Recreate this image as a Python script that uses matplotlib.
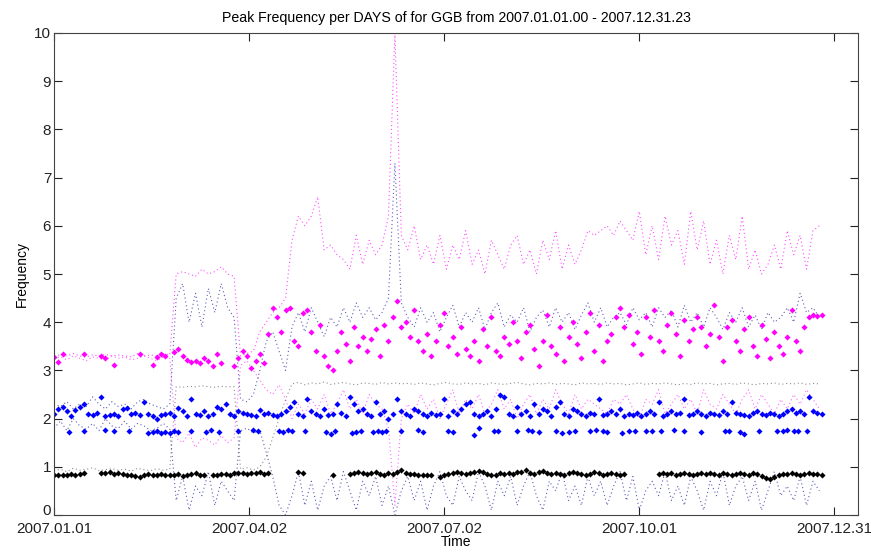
import numpy as np
import matplotlib
matplotlib.use("Agg")
import matplotlib.pyplot as plt
import matplotlib.transforms as mtransforms

nan = np.nan

# day of year (0 = 2007.01.01), markers every 2 days, dotted bands every 3 days
days2 = np.arange(0, 365, 2)
days3 = np.arange(0, 364, 3)

tick_days = [0, 91, 182, 273, 364]
tick_labels = ["2007.01.01", "2007.04.02", "2007.07.02", "2007.10.01", "2007.12.31"]

# peak 1 (black markers)
blk = [0.83, 0.82, 0.84, 0.83, 0.85, 0.84, 0.86, 0.88, nan, nan,
       nan, 0.88, 0.87, 0.89, 0.86, 0.88, 0.86, 0.84, 0.82, 0.80,
       0.78, 0.82, 0.85, 0.84, 0.83, 0.85, 0.82, 0.83, 0.84, 0.86,
       0.81, 0.83, 0.85, 0.87, 0.83, 0.84, nan, 0.82, 0.84, 0.85,
       0.86, 0.84, 0.88, 0.87, 0.88, 0.86, 0.88, 0.87, 0.89, 0.86,
       0.87, nan, nan, nan, nan, nan, nan, 0.90, 0.88, nan,
       nan, nan, nan, nan, nan, 0.82, nan, nan, nan, 0.86,
       0.88, 0.90, 0.87, 0.85, 0.88, 0.89, 0.86, 0.84, 0.87, 0.86,
       0.90, 0.93, 0.88, 0.86, 0.85, 0.83, 0.82, 0.84, 0.83, nan,
       0.78, 0.82, 0.86, 0.88, 0.90, 0.87, 0.85, 0.88, 0.90, 0.92,
       0.89, 0.86, 0.84, 0.82, 0.87, 0.85, 0.88, 0.86, 0.89, 0.90,
       0.93, 0.88, 0.86, 0.89, 0.92, 0.87, 0.85, 0.88, 0.86, 0.84,
       0.87, 0.90, 0.88, 0.85, 0.83, 0.86, 0.89, 0.87, 0.84, 0.86,
       0.88, 0.85, 0.83, 0.86, nan, nan, nan, nan, nan, nan,
       nan, 0.86, 0.88, 0.85, 0.87, 0.84, 0.86, 0.88, 0.85, 0.83,
       0.86, 0.87, 0.85, 0.88, 0.86, 0.84, 0.87, 0.85, 0.83, 0.86,
       0.88, 0.86, 0.84, 0.87, 0.85, 0.80, 0.76, 0.75, 0.78, 0.83,
       0.85, 0.86, 0.88, 0.85, 0.83, 0.86, 0.87, 0.85, 0.86, 0.84,
       nan, nan, nan]

# peak 2 (blue markers, main level)
blu = [2.10, 2.20, 2.25, 2.15, 2.05, 2.18, 2.25, 2.30, 2.10, 2.08,
       2.12, 2.45, 2.05, 2.08, 2.10, 2.05, 2.20, 2.22, 2.10, 2.12,
       2.08, 2.35, 2.10, 2.05, 2.00, 2.08, 2.10, 2.12, 2.05, 2.22,
       2.15, 2.05, 2.40, 2.10, 2.08, 2.15, 2.05, 2.10, 2.25, 2.20,
       2.30, 2.10, 2.05, 2.15, 2.12, 2.10, 2.08, 2.05, 2.18, 2.10,
       2.12, 2.08, 2.05, 2.10, 2.15, 2.25, 2.35, 2.10, 2.05, 2.40,
       2.15, 2.10, 2.05, 2.20, 2.08, 2.10, 2.30, 2.12, 2.05, 2.45,
       2.30, 2.15, 2.20, 2.10, 2.05, 2.35, 2.10, 2.15, 2.00, 2.10,
       2.40, 2.15, 2.10, 2.05, 2.20, 2.15, 2.10, 2.05, 2.12, 2.08,
       2.10, 2.40, 2.05, 2.15, 2.10, 2.20, 2.30, 2.35, 2.10, 2.05,
       2.10, 2.15, 2.05, 2.20, 2.50, 2.45, 2.10, 2.05, 2.25, 2.10,
       2.15, 2.05, 2.30, 2.10, 2.20, 2.15, 2.05, 2.25, 2.35, 2.10,
       2.05, 2.20, 2.15, 2.10, 2.05, 2.12, 2.10, 2.40, 2.08, 2.10,
       2.15, 2.10, 2.20, 2.05, 2.10, 2.08, 2.12, 2.05, 2.10, 2.15,
       2.10, 2.35, 2.05, 2.10, 2.15, 2.10, 2.12, 2.40, 2.08, 2.10,
       2.15, 2.10, 2.05, 2.12, 2.10, 2.08, 2.15, 2.10, 2.35, 2.12,
       2.10, 2.08, 2.05, 2.12, 2.15, 2.10, 2.08, 2.12, 2.10, 2.05,
       2.10, 2.15, 2.20, 2.12, 2.15, 2.10, 2.45, 2.15, 2.12, 2.10,
       nan, nan, nan]

# peak 2 (blue markers, lower level)
blu_low_days = [7, 14, 24, 28, 35, 44, 46, 48, 50, 52,
                54, 56, 58, 64, 71, 73, 77, 86, 93, 95,
                105, 107, 109, 111, 117, 127, 129, 131, 139, 141,
                143, 149, 151, 153, 155, 162, 170, 172, 184, 186,
                196, 198, 205, 207, 216, 221, 223, 226, 234, 237,
                240, 243, 250, 253, 256, 258, 265, 268, 271, 276,
                279, 283, 289, 294, 302, 313, 315, 320, 322, 329,
                337, 340, 342, 345, 347, 351]
blu_low = [1.72, 1.75, 1.76, 1.75, 1.74, 1.70, 1.72, 1.74, 1.71, 1.73,
           1.70, 1.74, 1.72, 1.75, 1.73, 1.76, 1.72, 1.75, 1.76, 1.74,
           1.75, 1.73, 1.76, 1.74, 1.75, 1.73, 1.68, 1.75, 1.70, 1.72,
           1.74, 1.73, 1.75, 1.72, 1.74, 1.75, 1.76, 1.73, 1.74, 1.72,
           1.65, 1.80, 1.75, 1.74, 1.75, 1.76, 1.74, 1.72, 1.75, 1.70,
           1.72, 1.75, 1.74, 1.76, 1.75, 1.73, 1.70, 1.74, 1.75, 1.75,
           1.74, 1.75, 1.76, 1.74, 1.73, 1.75, 1.74, 1.72, 1.68, 1.75,
           1.74, 1.75, 1.76, 1.75, 1.74, 1.75]

# peak 3 (magenta markers)
mag = [3.28, 3.18, 3.35, nan, nan, nan, nan, 3.35, nan, nan,
       nan, 3.30, 3.25, nan, 3.12, nan, nan, nan, nan, nan,
       3.35, nan, nan, 3.12, 3.28, 3.35, 3.30, nan, 3.38, 3.45,
       3.30, 3.22, 3.18, 3.20, 3.15, 3.25, 3.20, 3.10, 3.35, 3.15,
       nan, nan, 3.10, 3.25, 3.40, 3.30, 3.05, 3.20, 3.35, 3.15,
       3.75, 4.30, 4.10, 3.80, 4.25, 4.30, 3.60, 3.50, 4.20, 4.25,
       3.80, 3.40, 3.95, 3.30, 3.10, 3.00, 3.40, 3.80, 3.55, 3.20,
       3.90, 3.50, 3.70, 3.40, 3.65, 3.85, 3.30, 3.95, 3.60, 4.10,
       4.45, 3.90, 4.00, 3.70, 4.25, 3.60, 3.40, 3.75, 3.30, 3.60,
       3.95, 4.20, 3.50, 3.70, 3.35, 3.90, 3.45, 3.30, 3.60, 3.20,
       3.85, 3.50, 4.10, 3.40, 3.30, 3.70, 3.55, 4.00, 3.60, 3.25,
       3.80, 3.95, 3.45, 3.10, 3.60, 4.15, 3.50, 3.35, 3.90, 3.20,
       3.70, 4.00, 3.55, 3.25, 3.80, 4.20, 3.40, 3.95, 3.20, 3.60,
       3.75, 4.10, 4.30, 3.90, 4.15, 3.55, 3.80, 3.35, 4.10, 3.70,
       4.25, 3.60, 3.40, 3.95, 4.20, 3.75, 3.30, 4.05, 3.60, 3.85,
       4.10, 3.90, 3.50, 3.75, 4.35, 3.70, 3.20, 3.90, 4.05, 3.60,
       3.40, 3.85, 4.10, 3.50, 3.30, 3.95, 3.65, 3.25, 3.80, 3.50,
       3.35, 3.70, 4.25, 3.60, 3.40, 3.90, 4.10, 4.15, 4.12, 4.15,
       nan, nan, nan]

# dotted spread lines
mag_hi = [3.30, 3.32, 3.30, 3.35, 3.30, 3.28, 3.32, 3.30, 3.33, 3.30,
          3.32, 3.30, 3.28, 3.35, 3.30, 3.32, 3.30, 3.35, 3.32,
          5.00, 5.05, 5.00, 4.95, 5.10, 5.00, 5.05, 5.15, 5.00, 4.95,
          3.30, 3.35, 3.40, 3.80, 4.00, 4.20, 4.30, 4.50,
          5.70, 6.20, 6.00, 6.20, 6.60, 5.50, 5.60, 5.40, 5.30,
          5.10, 5.80, 5.20, 5.70, 5.40, 5.60, 6.20,
          10.0,
          5.80,
          5.50, 6.00, 5.30, 5.60, 5.20, 5.80, 5.10, 5.60, 5.30, 5.90,
          5.20, 5.50, 5.00, 5.70, 5.40, 5.10, 5.60, 5.80, 5.20, 5.50,
          5.00, 5.70, 5.30, 5.90, 5.10, 5.60, 5.20, 5.50, 5.90, 5.80,
          5.90, 6.00, 5.80, 6.10, 5.90, 5.70, 6.30, 5.40, 6.00, 5.30,
          6.20, 5.60, 5.90, 5.20, 6.30, 5.50, 6.10, 5.20, 5.70, 5.00,
          5.80, 5.30, 6.20, 5.10, 5.50, 5.00, 5.20, 5.60, 5.10, 5.90,
          5.40, 5.80, 5.10, 5.90, 6.00, nan, nan]

mag_lo = [3.25, 3.28, 3.22, 3.30, 3.25, 3.20, 3.28, 3.25, 3.22, 3.30,
          3.25, 3.28, 3.22, 3.25, 3.30, 3.25, 3.20, 3.28, 3.25,
          1.60, 1.50, 1.70, 1.40, 1.60, 1.55, 1.45, 1.65, 1.50, 1.60,
          3.10, 3.20, 3.00, 2.80, 2.60, 2.50, 2.70, 2.40,
          2.00, 2.30, 2.10, 2.40, 2.20, 2.50, 2.10, 2.30, 2.60,
          2.20, 2.40, 2.10, 2.50, 2.30, 2.20, 1.80,
          0.20,
          2.00,
          2.30, 2.10, 2.50, 2.20, 2.40, 2.00, 2.30, 2.60, 2.10, 2.40,
          2.20, 2.50, 2.10, 2.30, 2.60, 2.20, 2.40, 2.00, 2.30, 2.50,
          2.10, 2.40, 2.20, 2.60, 2.30, 2.10, 2.50, 2.20, 2.40, 2.30,
          2.20, 2.10, 2.40, 2.30, 2.50, 2.20, 2.00, 2.40, 2.30, 2.60,
          2.10, 2.30, 2.50, 2.20, 2.40, 2.10, 2.60, 2.30, 2.20, 2.50,
          2.30, 2.10, 2.40, 2.60, 2.20, 2.50, 2.30, 2.10, 2.40, 2.20,
          2.50, 2.30, 2.60, 2.40, 2.20, nan, nan]

blu_hi = [2.30, 2.25, 2.35, 2.20, 2.30, 2.25, 2.45, 2.30, 2.20, 2.35,
          2.25, 2.30, 2.20, 2.35, 2.40, 2.30, 2.25, 2.20, 2.30,
          4.50, 4.80, 4.00, 4.60, 3.90, 4.70, 4.20, 4.80, 4.30, 4.10,
          2.40, 2.35, 2.50, 3.00, 3.60, 3.80, 3.40, 3.00,
          3.90, 4.20, 3.80, 4.30, 4.00, 3.70, 4.10, 3.90, 4.30,
          4.00, 4.40, 4.10, 4.30, 4.05, 4.20, 4.50,
          7.30,
          4.40,
          4.10, 3.90, 4.30, 4.00, 4.20, 3.80, 4.10, 4.35, 3.90, 4.20,
          4.00, 4.30, 3.85, 4.20, 4.40, 3.90, 4.15, 4.00, 4.30, 3.80,
          4.10, 4.25, 3.90, 4.30, 4.00, 4.20, 3.85, 4.15, 4.40, 4.00,
          4.30, 3.90, 4.10, 4.20, 3.95, 4.30, 4.05, 4.20, 3.90, 4.30,
          4.10, 4.25, 3.90, 4.35, 4.00, 4.20, 3.90, 4.30, 4.10, 3.85,
          4.20, 4.00, 4.30, 3.90, 4.15, 3.85, 4.20, 4.00, 4.10, 4.30,
          4.00, 4.60, 4.20, 4.30, 4.10, nan, nan]

blu_lo = [1.80, 1.95, 1.75, 2.00, 1.85, 1.78, 1.90, 1.75, 2.00, 1.85,
          1.80, 1.95, 1.78, 1.90, 1.85, 1.75, 1.80, 1.90, 1.78,
          0.30, 0.80, 0.10, 0.60, 0.40, 0.90, 0.20, 0.70, 0.50, 0.30,
          1.75, 1.80, 1.70, 1.75, 1.30, 0.80, 0.20, 0.00,
          0.40, 0.90, 0.20, 0.70, 0.10, 0.60, 0.80, 0.30, 0.90,
          0.50, 0.10, 0.70, 0.40, 0.80, 0.20, 0.60,
          0.00,
          0.50,
          0.80, 0.30, 0.70, 0.10, 0.60, 0.90, 0.40, 0.20, 0.80, 0.50,
          0.30, 0.90, 0.60, 0.10, 0.70, 0.40, 0.80, 0.20, 0.60, 0.90,
          0.40, 0.10, 0.70, 0.50, 0.90, 0.30, 0.60, 0.20, 0.80, 0.40,
          0.70, 0.20, 0.60, 0.90, 0.30, 0.80, 0.10, 0.50, 0.70, 0.40,
          0.90, 0.30, 0.60, 0.20, 0.80, 0.50, 0.10, 0.70, 0.40, 0.90,
          0.20, 0.60, 0.80, 0.30, 0.70, 0.10, 0.50, 0.90, 0.40, 0.60,
          0.30, 0.80, 0.20, 0.70, 0.50, nan, nan]

blk_hi = [0.92, 0.95, 0.90, 0.97, 0.93, 0.95, 0.98, 0.92, 0.94, 0.96,
          0.93, 0.95, 0.91, 0.97, 0.94, 0.92, 0.96, 0.93, 0.95,
          2.66, 2.65, 2.67, 2.66, 2.68, 2.66, 2.65, 2.67, 2.66, 2.66,
          0.95, 0.98, 0.93, 1.00, 1.20, 1.60, 2.00, 2.40,
          2.72, 2.75, 2.70, 2.74, 2.72, 2.76, 2.71, 2.73, 2.75,
          2.72, 2.70, 2.74, 2.73, 2.71, 2.75, 2.72,
          2.74,
          2.72,
          2.73, 2.71, 2.74, 2.72, 2.70, 2.73, 2.75, 2.72, 2.71, 2.74,
          2.72, 2.73, 2.70, 2.74, 2.72, 2.71, 2.73, 2.75, 2.72, 2.70,
          2.73, 2.72, 2.74, 2.71, 2.73, 2.72, 2.70, 2.74, 2.72, 2.73,
          2.71, 2.74, 2.72, 2.73, 2.70, 2.72, 2.74, 2.71, 2.73, 2.72,
          2.74, 2.72, 2.70, 2.73, 2.71, 2.74, 2.72, 2.73, 2.70, 2.72,
          2.73, 2.71, 2.74, 2.72, 2.70, 2.73, 2.72, 2.74, 2.71, 2.73,
          2.72, 2.74, 2.71, 2.73, 2.72, nan, nan]

plt.rcParams["font.family"] = ["Liberation Sans", "DejaVu Sans"]

fig = plt.figure(figsize=(8.71, 5.56), dpi=100)
ax = fig.add_axes([54 / 871, 41 / 556, 804 / 871, 482 / 556])

dot = (0, (1, 2.5))
ax.plot(days3, mag_hi, color="#ff00ff", ls=dot, lw=0.8, alpha=0.7)
ax.plot(days3, mag_lo, color="#ff00ff", ls=dot, lw=0.8, alpha=0.6)
ax.plot(days3, blu_hi, color="#1a1a99", ls=dot, lw=0.8, alpha=0.7)
ax.plot(days3, blu_lo, color="#1a1a99", ls=dot, lw=0.8, alpha=0.7)
ax.plot(days3, blk_hi, color="#333333", ls=dot, lw=0.8, alpha=0.55)

ms = 3.1
ax.plot(days2, blk, ls="none", marker="D", ms=ms, mew=0, color="black")
ax.plot(days2, blu, ls="none", marker="D", ms=ms, mew=0, color="#0000ff")
ax.plot(blu_low_days, blu_low, ls="none", marker="D", ms=ms, mew=0, color="#0000ff")
ax.plot(days2, mag, ls="none", marker="D", ms=ms, mew=0, color="#ff00ff")

ax.set_xlim(0, 375)
ax.set_ylim(0, 10)
ax.set_xticks(tick_days)
ax.set_xticklabels(tick_labels)
ax.set_yticks(range(0, 11))
ax.tick_params(direction="in", top=True, right=True, length=5.5, labelsize=11, colors="#222222")
ax.tick_params(axis="x", pad=5)
ax.tick_params(axis="y", pad=2)
for s in ax.spines.values():
    s.set_color("#444444")

# MATLAB sits the bottom "0" a little above its tick
zero_lab = ax.get_yticklabels()[0]
zero_lab.set_transform(zero_lab.get_transform() +
                       mtransforms.ScaledTranslation(0, 4 / 72, fig.dpi_scale_trans))

ax.set_title("Peak Frequency per DAYS of for GGB from 2007.01.01.00 - 2007.12.31.23",
             fontsize=10.2, pad=8)
ax.set_xlabel("Time", fontsize=10, labelpad=-1)
ax.set_ylabel("Frequency", fontsize=10, labelpad=4)

fig.savefig("out.png", dpi=100)
